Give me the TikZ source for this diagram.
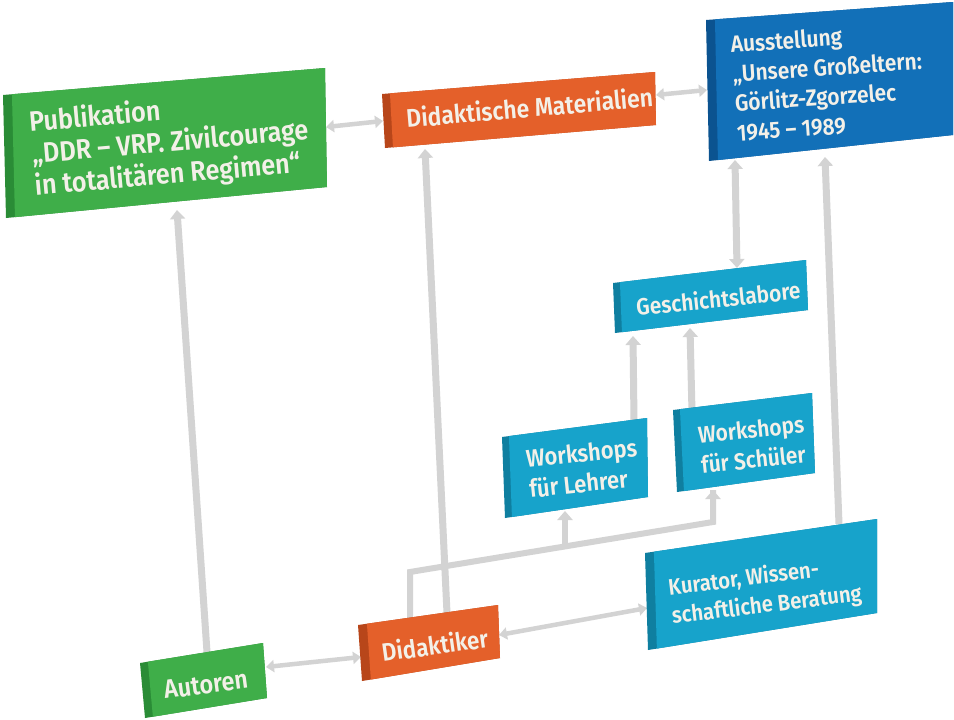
\documentclass[tikz,border=0pt]{standalone}
\usepackage{fontspec}
\setmainfont{Fira Sans}[BoldFont={Fira Sans SemiBold}]
\usetikzlibrary{calc,arrows.meta}
\definecolor{cgreen}{HTML}{3FAE49}
\definecolor{cgreenD}{HTML}{2A8C36}
\definecolor{corange}{HTML}{E4602A}
\definecolor{corangeD}{HTML}{B8461A}
\definecolor{cblue}{HTML}{1270B8}
\definecolor{cblueD}{HTML}{0B5390}
\definecolor{ccyan}{HTML}{17A3CB}
\definecolor{ccyanD}{HTML}{0F7FA0}
\definecolor{txt}{HTML}{F3F0E8}
\definecolor{barc}{HTML}{D3D3D3}
\newcommand\slab[8]{%
  \fill[#8] #2 -- #3 -- #4 -- #5 -- cycle;
  \fill[#7] ($#2!#6!#3$) -- #3 -- #4 -- ($#5!#6!#4$) -- cycle;
}
\tikzset{
  lbl/.style={inner sep=0pt, text=txt, font=\bfseries, align=left},
  vbar/.style={draw=barc, line width=7pt},
  hbar/.style={draw=barc, line width=4.5pt},
  ktip/.style={-{Triangle[length=9pt,width=15pt]}},
  htips/.style={{Triangle[length=8pt,width=12pt]}-{Triangle[length=8pt,width=12pt]}},
  vtips/.style={{Triangle[length=9pt,width=15pt]}-{Triangle[length=9pt,width=15pt]}},
}
\begin{document}
\begin{tikzpicture}[x=1pt,y=-1pt]
\fill[white] (0,0) rectangle (954,720);
\useasboundingbox (0,0) rectangle (954,720);
% connector end points
\coordinate (pubR) at (326,127); \coordinate (dmL) at (383,121);
\coordinate (dmR) at (656,95); \coordinate (ausL) at (707,90);
\coordinate (autT) at (207,652); \coordinate (pubB) at (177,210);
\coordinate (didT1) at (447,613); \coordinate (dmB) at (425,149);
\coordinate (autR) at (266,667); \coordinate (didL) at (361,657);
\coordinate (didR) at (499,635); \coordinate (kurL) at (647,608);
\coordinate (kurT) at (839,524); \coordinate (ausB) at (825,157);
\coordinate (ausB2) at (735,160); \coordinate (gesT) at (737,268);
\coordinate (wlT) at (634,421); \coordinate (gesB1) at (633,336);
\coordinate (wsT) at (692,412); \coordinate (gesB2) at (690,328);
\coordinate (didT2) at (410,624); \coordinate (k1) at (410,572);
\coordinate (k2) at (713,522); \coordinate (wsB) at (713,490);
\coordinate (k3) at (565,547); \coordinate (wlB) at (565,511);
% connectors
\draw[vbar, line width=6pt, line join=miter] (didT2) -- (k1) -- (k2) -- (wsB);
\draw[vbar, line width=6pt, ktip] (k2) -- (wsB);
\draw[vbar, line width=6pt, ktip] (k3) -- (wlB);
\draw[vbar, ktip] (didT1) -- (dmB);
\draw[vbar, ktip] (autT) -- (pubB);
\draw[vbar, ktip] (kurT) -- (ausB);
\draw[vbar, vtips] (ausB2) -- (gesT);
\draw[vbar, ktip] (wlT) -- (gesB1);
\draw[vbar, ktip] (wsT) -- (gesB2);
\draw[hbar, htips] (pubR) -- (dmL);
\draw[hbar, htips] (dmR) -- (ausL);
\draw[hbar, htips] (autR) -- (didL);
\draw[hbar, htips] (didR) -- (kurL);
% boxes
\slab{pub}{(3,95)}{(325,68)}{(327,187)}{(6,218)}{9pt}{cgreen}{cgreenD}
\slab{dm}{(382,94)}{(655,72)}{(656,125)}{(385,148)}{8pt}{corange}{corangeD}
\slab{aus}{(706,20)}{(953,2)}{(953,135)}{(709,161)}{9pt}{cblue}{cblueD}
\slab{ges}{(613,283)}{(806,260)}{(808,310)}{(615,333)}{7pt}{ccyan}{ccyanD}
\slab{wl}{(502,437)}{(647,418)}{(648,497)}{(505,518)}{7pt}{ccyan}{ccyanD}
\slab{ws}{(673,410)}{(812,393)}{(815,473)}{(677,492)}{7pt}{ccyan}{ccyanD}
\slab{kur}{(645,553)}{(877,519)}{(877,613)}{(648,650)}{9pt}{ccyan}{ccyanD}
\slab{did}{(358,625)}{(498,605)}{(500,658)}{(362,681)}{9pt}{corange}{corangeD}
\slab{aut}{(140,663)}{(263,643)}{(267,698)}{(145,718)}{8pt}{cgreen}{cgreenD}
% labels
\node[lbl, anchor=north west, rotate=5, xscale=0.9, font=\bfseries\fontsize{28}{32}\selectfont] (pubt) at (28,109)
  {Publikation\\„DDR – VRP. Zivilcourage\\in totalitären Regimen“};
\node[lbl, anchor=base west, rotate=5, xscale=0.9, font=\bfseries\fontsize{25.5}{30}\selectfont] (dmt) at (407,128)
  {Didaktische Materialien};
\node[lbl, anchor=north west, rotate=4, xscale=0.9, font=\bfseries\fontsize{23.3}{29.5}\selectfont] (aust) at (730,35)
  {Ausstellung\\„Unsere Großeltern:\\Görlitz-Zgorzelec\\1945 – 1989};
\node[lbl, anchor=base west, rotate=6, xscale=0.9, font=\bfseries\fontsize{23.3}{29}\selectfont] (gest) at (637,316)
  {Geschichtslabore};
\node[lbl, anchor=north west, rotate=6, xscale=0.9, font=\bfseries\fontsize{24.4}{30.5}\selectfont] (wlt) at (525,449)
  {Workshops\\für Lehrer};
\node[lbl, anchor=north west, rotate=6, xscale=0.9, font=\bfseries\fontsize{23.3}{30}\selectfont] (wst) at (697,426)
  {Workshops\\für Schüler};
\node[lbl, anchor=north west, rotate=7, xscale=0.9, font=\bfseries\fontsize{22.6}{29}\selectfont] (kurt) at (667,577)
  {Kurator, Wissen-\\schaftliche Beratung};
\node[lbl, anchor=base west, rotate=8, xscale=0.9, font=\bfseries\fontsize{25}{30}\selectfont] (didt) at (383,662)
  {Didaktiker};
\node[lbl, anchor=base west, rotate=7.5, xscale=0.9, font=\bfseries\fontsize{26}{30}\selectfont] (autt) at (165,699)
  {Autoren};
\end{tikzpicture}
\end{document}
